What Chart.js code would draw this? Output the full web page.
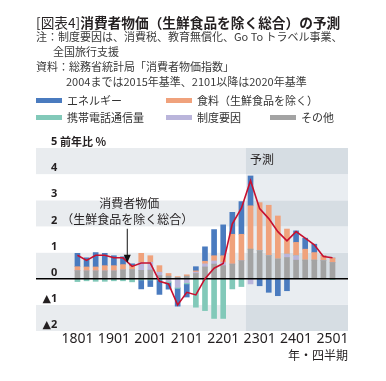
<!DOCTYPE html>
<html><head><meta charset="utf-8">
<script src="https://cdn.jsdelivr.net/npm/chart.js@4"></script>
<style>
body{margin:0;background:#fff;}
#wrap{position:relative;width:386px;height:381px;overflow:hidden;font-family:"Noto Sans CJK JP","Noto Sans",sans-serif;color:#231f20;}
#wrap canvas{position:absolute;left:0;top:0;}
.t{position:absolute;white-space:nowrap;line-height:16px;height:16px;}
.sw{position:absolute;width:26px;height:5px;}
</style></head><body>
<div id="wrap">
<canvas id="c" width="386" height="381"></canvas>
<div class="t" style="left:36px;top:13.7px;font-size:13.7px;font-weight:700;"><span style="font-weight:400">[図表4]</span>消費者物価（生鮮食品を除く総合）の予測</div>
<div class="t" style="left:36px;top:28.2px;font-size:11px;color:#3a3a3a;">注：制度要因は、消費税、教育無償化、Go To トラベル事業、</div>
<div class="t" style="left:53px;top:43.3px;font-size:11px;color:#3a3a3a;">全国旅行支援</div>
<div class="t" style="left:36px;top:57.5px;font-size:11px;color:#3a3a3a;">資料：総務省統計局「消費者物価指数」</div>
<div class="t" style="left:66px;top:72.7px;font-size:11px;color:#3a3a3a;">2004までは2015年基準、2101以降は2020年基準</div>
<div id="legend"></div>
</div>
<script>
// ---- data ----
const categories = ['1801','1802','1803','1804','1901','1902','1903','1904','2001','2002','2003','2004','2101','2102','2103','2104','2201','2202','2203','2204','2301','2302','2303','2304','2401','2402','2403','2404','2501'];
const tickLabels = ['1801','1901','2001','2101','2201','2301','2401','2501'];
const yTicks = [-2,-1,0,1,2,3,4,5];
const forecastFrom = '2204';
const energy = [0.51,0.35,0.55,0.47,0.38,0.30,0.07,-0.34,-0.25,-0.55,-0.25,-0.68,-0.50,0.16,0.55,1.00,1.18,0.84,1.25,1.14,-0.27,-0.52,-0.65,-0.46,0.44,0.42,0.32,0,0];
const food = [0.15,0.15,0.15,0.20,0.20,0.20,0.15,0.35,0.25,0.25,0.10,0.03,0.05,0.05,0.10,0.20,0.26,1.14,1.01,1.66,1.84,1.93,1.65,0.96,0.51,0.42,0.29,0.19,0.17];
const mobile = [-0.11,-0.08,-0.10,-0.10,-0.08,-0.08,-0.12,-0.05,-0.05,-0.05,-0.05,-0.04,-0.05,-1.09,-1.22,-1.52,-1.52,-0.39,-0.30,0,0,0,0,0,0,0,0,0,-0.03];
const policy = [0,0,0,0,0,0,0,0.30,0.30,0.13,-0.10,-0.33,-0.15,0.05,0.12,0.12,0.12,0,0,-0.20,0,0,0,0.13,0.17,0,0,0,0];
const other = [0.31,0.30,0.30,0.30,0.30,0.34,0.35,0.32,0.33,0.12,0.10,0.05,0.10,0.20,0.45,0.56,0.50,0.56,0.69,1.13,1.07,0.88,0.75,0.81,0.71,0.71,0.71,0.69,0.62];
const coreCPI = [0.9,0.7,0.9,0.9,0.8,0.8,0.47,0.6,0.6,-0.1,-0.2,-1.0,-0.52,-0.62,0.0,0.4,0.58,2.1,2.7,3.75,2.68,2.3,1.8,1.45,1.8,1.55,1.3,0.85,0.8];
const names = {energy:'エネルギー', food:'食料（生鮮食品を除く）', mobile:'携帯電話通信量', policy:'制度要因', other:'その他', core:'消費者物価（生鮮食品を除く総合）'};

// ---- styles ----
const colors = {energy:'#4a7bbf', food:'#f0a27c', mobile:'#82c9b9', policy:'#bab5db', other:'#a3a3a3', core:'#c8102e'};
const txt = '#231f20';
const jp = '"Noto Sans CJK JP", "Noto Sans", sans-serif';
const num = '"Noto Sans", "DejaVu Sans", "Noto Sans CJK JP", sans-serif';

const pts = arr => arr.map((v, i) => ({x: i, y: v}));
const series = {energy, food, mobile, policy, other};
const barSet = key => ({type:'bar', label:names[key], data:pts(series[key]), backgroundColor:colors[key], stack:'bars', order:1, barThickness:5, borderWidth:0});

// legend (HTML)
const legendItems = [['energy',0,0],['food',1,0],['mobile',0,1],['policy',1,1],['other',2,1]];
const colX = [36,166,270], rowY = [100,117];
const lg = document.getElementById('legend');
legendItems.forEach(([k,c,r]) => {
  const s = document.createElement('div'); s.className='sw';
  s.style.left = colX[c]+'px'; s.style.top = (rowY[r]-2.5)+'px'; s.style.background = colors[k];
  lg.appendChild(s);
  const t = document.createElement('div'); t.className='t';
  t.style.left = (colX[c]+31)+'px'; t.style.top = (rowY[r]-8)+'px'; t.style.fontSize='11px'; t.style.color='#333';
  t.textContent = names[k];
  lg.appendChild(t);
});

const deco = {
  id: 'deco',
  beforeDraw(chart) {
    const {ctx, chartArea: a, scales: {x, y}} = chart;
    const fx = x.getPixelForValue(categories.indexOf(forecastFrom) - 0.5);
    ctx.save();
    for (let v = y.min; v < y.max; v++) {
      const top = y.getPixelForValue(v + 1), bot = y.getPixelForValue(v);
      const shaded = ((v % 2) + 2) % 2 === 0;
      ctx.fillStyle = shaded ? '#e9ecef' : '#ffffff';
      ctx.fillRect(a.left, top, fx - a.left, bot - top);
      ctx.fillStyle = shaded ? '#d6dde3' : '#e9edf1';
      ctx.fillRect(fx, top, a.right - fx, bot - top);
    }
    ctx.fillStyle = txt;
    ctx.font = '12px ' + jp;
    ctx.textAlign = 'left'; ctx.textBaseline = 'middle';
    ctx.fillText('予測', fx + 4, y.getPixelForValue(5) + 11.5);
    ctx.restore();
  },
  beforeDatasetDraw(chart, args) {
    if (args.meta.type !== 'line') return;
    const {ctx, chartArea: a, scales: {y}} = chart;
    const y0 = y.getPixelForValue(0);
    ctx.save();
    ctx.strokeStyle = '#000'; ctx.lineWidth = 1.5;
    ctx.beginPath(); ctx.moveTo(a.left, y0); ctx.lineTo(a.right, y0); ctx.stroke();
    ctx.restore();
  },
  afterDraw(chart) {
    const {ctx, scales: {x, y}} = chart;
    ctx.save();
    ctx.fillStyle = txt; ctx.font = 'bold 11px ' + jp;
    ctx.textAlign = 'left'; ctx.textBaseline = 'middle';
    ctx.fillText('前年比 %', chart.chartArea.left + 24, y.getPixelForValue(5) - 6);
    const tx = x.getPixelForValue(5.47), ty = y.getPixelForValue(0.61);
    ctx.font = '12px ' + jp; ctx.textAlign = 'center';
    ctx.fillText('消費者物価', tx + 2, ty - 59);
    ctx.fillText('（生鮮食品を除く総合）', tx, ty - 43);
    ctx.strokeStyle = '#111'; ctx.lineWidth = 1;
    ctx.beginPath(); ctx.moveTo(tx, ty - 34); ctx.lineTo(tx, ty - 6); ctx.stroke();
    ctx.fillStyle = '#111';
    ctx.beginPath(); ctx.moveTo(tx, ty); ctx.lineTo(tx - 3.5, ty - 8); ctx.lineTo(tx + 3.5, ty - 8); ctx.closePath(); ctx.fill();
    ctx.restore();
  }
};

new Chart(document.getElementById('c'), {
  type: 'bar',
  data: {
    datasets: [
      {type:'line', label:names.core, data:pts(coreCPI), borderColor:colors.core, borderWidth:1.6, pointRadius:0, tension:0, fill:false, stack:'line', order:0},
      barSet('other'), barSet('policy'), barSet('mobile'), barSet('food'), barSet('energy')
    ]
  },
  options: {
    responsive: false, devicePixelRatio: 1, animation: false,
    layout: {padding: {left: 36, right: 38, top: 148, bottom: 18.8}},
    plugins: {legend: {display: false}, tooltip: {enabled: false}},
    scales: {
      x: {
        type: 'linear', min: -4.55, max: 29.7, offset: false, stacked: true,
        grid: {display: false, drawTicks: false}, border: {display: false},
        afterBuildTicks: s => { s.ticks = tickLabels.map(l => ({value: categories.indexOf(l)})); },
        ticks: {autoSkip: false, maxRotation: 0, padding: 0, color: txt, font: {size: 14, family: num}, callback: v => categories[v]},
        title: {display: true, text: '年・四半期', align: 'end', color: txt, font: {size: 12, family: jp}, padding: {top: 0, bottom: 0}}
      },
      y: {
        min: -2, max: 5, stacked: true, position: 'left',
        grid: {display: false, drawTicks: false}, border: {display: false},
        afterBuildTicks: s => { s.ticks = yTicks.map(v => ({value: v})); },
        afterFit: s => { s.width = 0; },
        ticks: {mirror: true, crossAlign: 'far', padding: 6.5, labelOffset: -6, color: txt, font: {size: 11, weight: 'bold', family: num}, callback: v => v < 0 ? '▲' + (-v) : String(v)}
      }
    }
  },
  plugins: [deco]
});
</script>
</body></html>
